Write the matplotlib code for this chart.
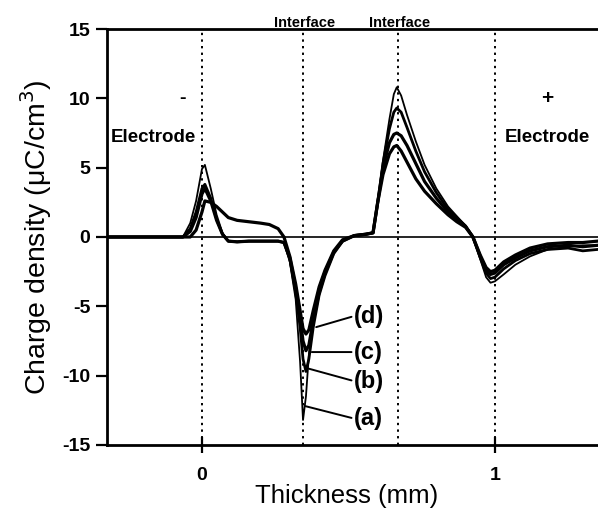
import matplotlib
matplotlib.use("Agg")
import matplotlib.pyplot as plt

plt.rcParams['font.family'] = ['Liberation Sans', 'DejaVu Sans']

# Thickness positions (mm)
x = [-0.33, -0.10, -0.065, -0.04, -0.02, 0.0, 0.01, 0.03, 0.05, 0.07, 0.09, 0.12, 0.16,
     0.20, 0.23, 0.26,
     0.28, 0.30, 0.32, 0.335, 0.345, 0.355, 0.365, 0.38, 0.40, 0.42, 0.45, 0.48,
     0.52, 0.56,
     0.584, 0.60, 0.618, 0.64, 0.655, 0.665,
     0.68, 0.70, 0.73, 0.76, 0.80, 0.84, 0.87, 0.90, 0.925, 0.95, 0.97, 0.985, 1.0,
     1.03, 1.07, 1.12, 1.18, 1.25, 1.30, 1.35]

# Charge density (uC/cm^3)
curve_a = [0, 0, 0, 1.0, 2.6, 4.9, 5.2, 3.5, 1.6, 0.3, -0.3, -0.35, -0.3, -0.3, -0.3, -0.3,
           -0.4, -1.8, -4.5, -9.0, -13.2, -11.5, -8.5, -5.6, -3.6, -2.4, -1.0, -0.3,
           0.1, 0.2,
           0.3, 2.5, 5.5, 8.5, 10.3, 10.8,
           10.2, 8.8, 6.9, 5.2, 3.5, 2.2, 1.5, 0.8, 0.0, -1.6, -2.9, -3.3, -3.2,
           -2.7, -2.0, -1.4, -0.9, -0.7, -0.6, -0.6]
curve_b = [0, 0, 0, 0.6, 1.8, 3.5, 3.8, 2.8, 1.3, 0.2, -0.3, -0.35, -0.3, -0.3, -0.3, -0.3,
           -0.4, -1.6, -4.0, -6.5, -8.8, -9.7, -8.8, -6.5, -4.2, -2.8, -1.2, -0.3,
           0.1, 0.2,
           0.3, 2.5, 5.3, 7.8, 9.0, 9.3,
           9.0, 7.9, 6.2, 4.7, 3.2, 2.0, 1.4, 0.8, 0.0, -1.5, -2.6, -3.0, -2.9,
           -2.3, -1.7, -1.2, -0.9, -0.8, -1.0, -0.9]
curve_c = [0, 0, 0, 0.4, 1.4, 3.1, 3.5, 2.6, 1.2, 0.2, -0.3, -0.35, -0.3, -0.3, -0.3, -0.3,
           -0.4, -1.5, -3.7, -5.8, -7.5, -8.2, -7.8, -6.0, -4.0, -2.6, -1.1, -0.3,
           0.1, 0.2,
           0.3, 2.5, 5.0, 6.8, 7.4, 7.5,
           7.3, 6.6, 5.3, 4.0, 2.8, 1.8, 1.3, 0.75, 0.0, -1.4, -2.4, -2.7, -2.6,
           -2.0, -1.5, -1.0, -0.7, -0.6, -0.7, -0.6]
curve_d = [0, 0, 0, 0.0, 0.5, 1.8, 2.6, 2.5, 2.2, 1.8, 1.4, 1.2, 1.1, 1.0, 0.9, 0.6,
           0.0, -1.4, -3.4, -5.3, -6.6, -7.0, -6.7, -5.3, -3.6, -2.4, -1.0, -0.2,
           0.1, 0.2,
           0.3, 2.5, 4.5, 6.0, 6.5, 6.6,
           6.2, 5.4, 4.2, 3.3, 2.4, 1.6, 1.1, 0.7, 0.0, -1.3, -2.2, -2.5, -2.4,
           -1.8, -1.3, -0.8, -0.5, -0.4, -0.4, -0.3]

curve_labels = ['(a)', '(b)', '(c)', '(d)']
label_pos = [(0.52, -13.1), (0.52, -10.4), (0.52, -8.3), (0.52, -5.7)]
label_anchor = [(0.353, -12.2), (0.365, -9.5), (0.375, -8.3), (0.39, -6.5)]

interfaces = [0.345, 0.67]
electrodes = [0.0, 1.0]

fig = plt.figure(figsize=(5.98, 5.18), dpi=100)
ax = fig.add_axes([0.179, 0.141, 0.821, 0.803])

for xv in electrodes + interfaces:
    ax.plot([xv, xv], [-15, 15], color='black', lw=1.4, ls=(0, (1.2, 2.2)), zorder=1)
ax.axhline(0, color='black', lw=1.2, zorder=2)

ax.plot(x, curve_d, color='black', lw=2.3, zorder=3)
ax.plot(x, curve_c, color='black', lw=2.3, zorder=3)
ax.plot(x, curve_b, color='black', lw=2.0, zorder=3)
ax.plot(x, curve_a, color='black', lw=1.3, zorder=4)

for lab, pos, anc in zip(curve_labels, label_pos, label_anchor):
    ax.annotate(lab, xy=anc, xytext=pos, fontsize=17, fontweight='bold',
                va='center', ha='left',
                arrowprops=dict(arrowstyle='-', color='black', lw=1.4,
                                shrinkA=0, shrinkB=0, relpos=(0, 0.5)))

ax.text(-0.065, 10, '-', fontsize=14, fontweight='bold', ha='center', va='center')
ax.text(-0.165, 7.2, 'Electrode', fontsize=13.5, fontweight='bold', ha='center', va='center')
ax.text(1.18, 10, '+', fontsize=15, fontweight='bold', ha='center', va='center')
ax.text(1.18, 7.2, 'Electrode', fontsize=13.5, fontweight='bold', ha='center', va='center')
for xv in [0.35, 0.675]:
    ax.text(xv, 15.15, 'Interface', fontsize=10.5, fontweight='bold', ha='center', va='baseline')

ax.set_xlim(-0.324, 1.352)
ax.set_ylim(-15, 15)
ax.set_xticks([0, 1])
ax.set_xticklabels(['0', '1'])
ax.set_yticks([-15, -10, -5, 0, 5, 10, 15])
ax.set_yticklabels(['-15', '-10', '-5', '0', '5', '10', '15'])
ax.tick_params(axis='y', direction='out', length=8, width=1.6, labelsize=14, pad=4)
ax.tick_params(axis='x', direction='inout', length=12, width=1.6, labelsize=14, pad=10)
for t in ax.get_xticklabels() + ax.get_yticklabels():
    t.set_fontweight('bold')

ax.spines['right'].set_visible(False)
for s in ['left', 'top', 'bottom']:
    ax.spines[s].set_linewidth(2.0)

ax.set_xlabel('Thickness (mm)', fontsize=18.5)
ax.xaxis.set_label_coords(0.487, -0.095)
ax.set_ylabel('Charge density (μC/cm$^3$)', fontsize=20.5, labelpad=6)

fig.savefig('out.png', dpi=100)
